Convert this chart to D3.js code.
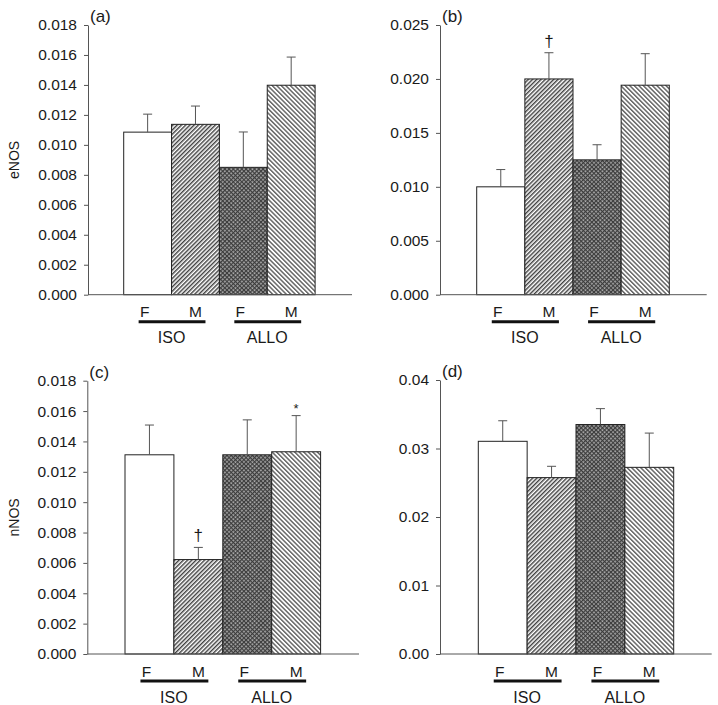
<!DOCTYPE html>
<html>
<head>
<meta charset="utf-8">
<script src="https://cdn.jsdelivr.net/npm/d3@7/dist/d3.min.js"></script>
<style>
  html, body { margin: 0; padding: 0; background: #fff; }
  svg { display: block; font-family: "Liberation Sans", Arial, sans-serif; }
</style>
</head>
<body>
<svg id="chart" width="718" height="705"></svg>
<script>
// ---- data ----
const categories = ["ISO F", "ISO M", "ALLO F", "ALLO M"];
const sexLabels = ["F", "M", "F", "M"];
const groupLabels = ["ISO", "ALLO"];
const panelLabels = ["(a)", "(b)", "(c)", "(d)"];
const yTitles = ["eNOS", "", "nNOS", ""];

const valuesA = [0.01085, 0.01137, 0.00850, 0.01398];
const errorsA = [0.00120, 0.00122, 0.00236, 0.00188];
const valuesB = [0.01000, 0.02000, 0.01250, 0.01942];
const errorsB = [0.00160, 0.00243, 0.00140, 0.00292];
const valuesC = [0.01312, 0.00622, 0.01312, 0.01332];
const errorsC = [0.00196, 0.00080, 0.00230, 0.00238];
const valuesD = [0.03105, 0.02575, 0.03350, 0.02725];
const errorsD = [0.00300, 0.00165, 0.00232, 0.00500];

const ticksA = [0, 0.002, 0.004, 0.006, 0.008, 0.010, 0.012, 0.014, 0.016, 0.018];
const ticksB = [0, 0.005, 0.010, 0.015, 0.020, 0.025];
const ticksC = [0, 0.002, 0.004, 0.006, 0.008, 0.010, 0.012, 0.014, 0.016, 0.018];
const ticksD = [0, 0.01, 0.02, 0.03, 0.04];

const tickFormats = [".3f", ".3f", ".3f", ".2f"];
// significance markers: [panel index, bar index, symbol]
const markers = [[1, 1, "\u2020"], [2, 1, "\u2020"], [2, 3, "*"]];

// ---- layout ----
const layouts = [
  { axisX: 88,  yTop: 25,    y0: 294.7, barStart: 123.7, barW: 47.85, axisEnd: 352,   lineY: 321.7 },
  { axisX: 440, yTop: 25,    y0: 294.7, barStart: 476.7, barW: 48.15, axisEnd: 706.7, lineY: 321.7 },
  { axisX: 87.3,yTop: 380.7, y0: 654,   barStart: 125,   barW: 48.9,  axisEnd: 359,   lineY: 681 },
  { axisX: 440, yTop: 380,   y0: 654,   barStart: 478.3, barW: 48.85, axisEnd: 711.7, lineY: 681 }
];

const panelValues = [valuesA, valuesB, valuesC, valuesD];
const panelErrors = [errorsA, errorsB, errorsC, errorsD];
const panelTicks = [ticksA, ticksB, ticksC, ticksD];

const svg = d3.select("#chart");
const defs = svg.append("defs");

// hatch "/" (ISO M)
const p1 = defs.append("pattern").attr("id", "hatchFwd").attr("patternUnits", "userSpaceOnUse")
  .attr("width", 3).attr("height", 3).attr("patternTransform", "rotate(45)");
p1.append("rect").attr("width", 3).attr("height", 3).attr("fill", "#fff");
p1.append("line").attr("x1", 0.75).attr("x2", 0.75).attr("y1", 0).attr("y2", 3)
  .attr("stroke", "#2a2a2a").attr("stroke-width", 1.3);
// hatch "\" (ALLO M)
const p2 = defs.append("pattern").attr("id", "hatchBack").attr("patternUnits", "userSpaceOnUse")
  .attr("width", 3.2).attr("height", 3.2).attr("patternTransform", "rotate(-45)");
p2.append("rect").attr("width", 3.2).attr("height", 3.2).attr("fill", "#fff");
p2.append("line").attr("x1", 0.75).attr("x2", 0.75).attr("y1", 0).attr("y2", 3.2)
  .attr("stroke", "#3a3a3a").attr("stroke-width", 1.15);
// checker (ALLO F)
const p3 = defs.append("pattern").attr("id", "checker").attr("patternUnits", "userSpaceOnUse")
  .attr("width", 3).attr("height", 3).attr("patternTransform", "rotate(45)");
p3.append("rect").attr("width", 3).attr("height", 3).attr("fill", "#3c3c3c");
p3.append("rect").attr("x", 0.3).attr("y", 0.3).attr("width", 1.6).attr("height", 1.6).attr("fill", "#c8c8c8");

const fills = ["#fff", "url(#hatchFwd)", "url(#checker)", "url(#hatchBack)"];

layouts.forEach((L, pi) => {
  const vals = panelValues[pi], errs = panelErrors[pi], ticks = panelTicks[pi];
  const x = d3.scaleBand().domain(categories)
    .range([L.barStart, L.barStart + 4 * L.barW]).paddingInner(0).paddingOuter(0);
  const y = d3.scaleLinear().domain([0, ticks[ticks.length - 1]]).range([L.y0, L.yTop]);
  const g = svg.append("g");

  // bars
  g.selectAll("rect.bar").data(categories).join("rect").attr("class", "bar")
    .attr("x", d => x(d)).attr("width", x.bandwidth())
    .attr("y", (d, i) => y(vals[i])).attr("height", (d, i) => L.y0 - y(vals[i]))
    .attr("fill", (d, i) => fills[i]).attr("stroke", "#222").attr("stroke-width", 1);

  // error bars (upward only)
  const eb = g.selectAll("g.err").data(categories).join("g").attr("class", "err");
  eb.append("line")
    .attr("x1", d => x(d) + x.bandwidth() / 2).attr("x2", d => x(d) + x.bandwidth() / 2)
    .attr("y1", (d, i) => y(vals[i])).attr("y2", (d, i) => y(vals[i] + errs[i]))
    .attr("stroke", "#555").attr("stroke-width", 1);
  eb.append("line")
    .attr("x1", d => x(d) + x.bandwidth() / 2 - 4.5).attr("x2", d => x(d) + x.bandwidth() / 2 + 4.5)
    .attr("y1", (d, i) => y(vals[i] + errs[i])).attr("y2", (d, i) => y(vals[i] + errs[i]))
    .attr("stroke", "#555").attr("stroke-width", 1);

  // y axis
  const yAxis = d3.axisLeft(y).tickValues(ticks).tickFormat(d3.format(tickFormats[pi]))
    .tickSizeInner(4).tickSizeOuter(0).tickPadding(7);
  const ya = g.append("g").attr("transform", `translate(${L.axisX},0)`).call(yAxis);
  ya.select(".domain").attr("stroke", "#555");
  ya.selectAll(".tick line").attr("stroke", "#555");
  ya.selectAll(".tick text").attr("fill", "#1a1a1a").style("font-size", "15.5px")
    .style("font-family", "'Liberation Sans', Arial, sans-serif");

  // x axis baseline
  g.append("line").attr("x1", L.axisX).attr("x2", L.axisEnd).attr("y1", L.y0).attr("y2", L.y0)
    .attr("stroke", "#555").attr("stroke-width", 1);

  // F / M labels
  g.selectAll("text.sex").data(categories).join("text").attr("class", "sex")
    .attr("x", (d, i) => x(d) + x.bandwidth() / 2 + (i % 2 === 0 ? -3 : 0))
    .attr("y", L.lineY - 4.5).attr("text-anchor", "middle")
    .style("font-size", "15.5px").attr("fill", "#1a1a1a").text((d, i) => sexLabels[i]);

  // group underline and labels
  groupLabels.forEach((gl, gi) => {
    const cF = x(categories[gi * 2]) + x.bandwidth() / 2 - 3;
    const cM = x(categories[gi * 2 + 1]) + x.bandwidth() / 2;
    g.append("line").attr("x1", cF - 6).attr("x2", cM + 10).attr("y1", L.lineY).attr("y2", L.lineY)
      .attr("stroke", "#111").attr("stroke-width", 3);
    g.append("text").attr("x", x(categories[gi * 2 + 1])).attr("y", L.lineY + 21.5)
      .attr("text-anchor", "middle").style("font-size", "16px").attr("fill", "#1a1a1a").text(gl);
  });

  // panel label
  g.append("text").attr("x", L.axisX + 2).attr("y", L.yTop - 3)
    .style("font-size", "17px").attr("fill", "#1a1a1a").text(panelLabels[pi]);

  // y title
  if (yTitles[pi]) {
    const cy = (L.yTop + L.y0) / 2;
    g.append("text").attr("transform", `translate(19,${cy}) rotate(-90)`)
      .attr("text-anchor", "middle").style("font-size", "14px").attr("fill", "#1a1a1a").text(yTitles[pi]);
  }

  // significance markers
  markers.filter(m => m[0] === pi).forEach(m => {
    const bi = m[1];
    const cx = x(categories[bi]) + x.bandwidth() / 2;
    const top = y(vals[bi] + errs[bi]);
    g.append("text").attr("x", cx).attr("y", top - (m[2] === "*" ? 3 : 6))
      .attr("text-anchor", "middle").style("font-size", m[2] === "*" ? "13px" : "17px")
      .attr("fill", "#1a1a1a").text(m[2]);
  });
});
</script>
</body>
</html>
